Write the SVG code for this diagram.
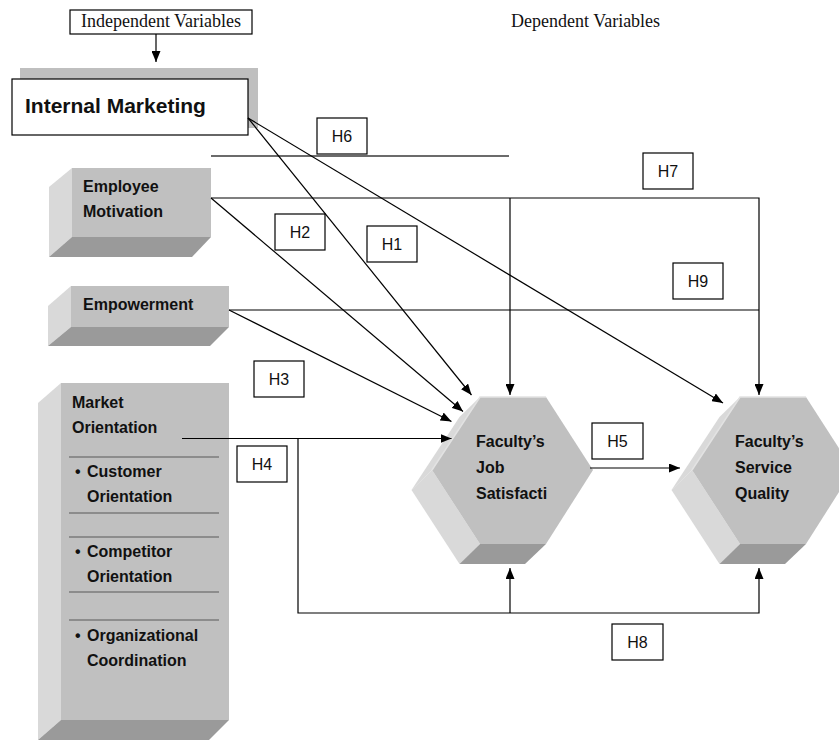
<svg xmlns="http://www.w3.org/2000/svg" width="839" height="740" viewBox="0 0 839 740">
<style>
.serif{font-family:"Liberation Serif","Times New Roman",serif;font-size:18px;fill:#111}
.lbl{font-family:"Liberation Sans",Arial,sans-serif;font-size:16px;font-weight:bold;fill:#111}
.h{font-family:"Liberation Sans",Arial,sans-serif;font-size:16px;fill:#111;text-anchor:middle}
.hb{fill:#fff;stroke:#000;stroke-width:1.2}
.front{fill:#c0c0c0}
.side{fill:#d9d9d9}
.bot{fill:#9a9a9a}
.div{stroke:#595959;stroke-width:1.2;fill:none}
.ln{stroke:#000;stroke-width:1.2;fill:none}
.ar{marker-end:url(#ah)}
</style>
<defs>
<marker id="ah" markerUnits="userSpaceOnUse" markerWidth="11" markerHeight="9" refX="11" refY="4.5" orient="auto">
<path d="M0,0 L11,4.5 L0,9 z" fill="#000"/>
</marker>
</defs>
<rect width="839" height="740" fill="#fff"/>

<g id="independent-variables">
<rect x="70" y="10" width="182" height="24" class="hb"/>
<text x="161" y="27" class="serif" text-anchor="middle">Independent Variables</text>
</g>
<g id="dependent-variables">
<text x="511" y="27" class="serif">Dependent Variables</text>
</g>

<g id="internal-marketing">
<rect x="20" y="68" width="238" height="60" fill="#bfbfbf"/>
<rect x="12" y="79" width="236" height="56" class="hb"/>
<text x="25" y="113" font-family="Liberation Sans, Arial, sans-serif" font-size="21" font-weight="bold" fill="#111">Internal Marketing</text>
</g>

<g id="employee-motivation">
<polygon class="side" points="49,187 72,168 72,237 49,257"/>
<polygon class="bot" points="72,237 211,237 192,257 49,257"/>
<rect class="front" x="72" y="168" width="139" height="69"/>
<text class="lbl" x="83" y="192">Employee</text>
<text class="lbl" x="83" y="217">Motivation</text>
</g>

<g id="empowerment">
<polygon class="side" points="48,306 71,286 71,327 48,346"/>
<polygon class="bot" points="71,327 229,327 210,346 48,346"/>
<rect class="front" x="71" y="286" width="158" height="41"/>
<text class="lbl" x="83" y="310">Empowerment</text>
</g>

<g id="market-orientation">
<polygon class="side" points="38,403 61,383 61,720 38,740"/>
<polygon class="bot" points="61,720 229,720 209,740 38,740"/>
<rect class="front" x="61" y="383" width="168" height="337"/>
<text class="lbl" x="72" y="408">Market</text>
<text class="lbl" x="72" y="433">Orientation</text>
<line class="div" x1="69" y1="457" x2="219" y2="457"/>
<text class="lbl" x="75" y="477">•</text>
<text class="lbl" x="87" y="477">Customer</text>
<text class="lbl" x="87" y="502">Orientation</text>
<line class="div" x1="69" y1="513" x2="219" y2="513"/>
<line class="div" x1="69" y1="537" x2="219" y2="537"/>
<text class="lbl" x="75" y="557">•</text>
<text class="lbl" x="87" y="557">Competitor</text>
<text class="lbl" x="87" y="582">Orientation</text>
<line class="div" x1="69" y1="592" x2="219" y2="592"/>
<line class="div" x1="69" y1="620" x2="219" y2="620"/>
<text class="lbl" x="75" y="641">•</text>
<text class="lbl" x="87" y="641">Organizational</text>
<text class="lbl" x="87" y="666">Coordination</text>
</g>

<g id="job-satisfaction">
<polygon class="side" points="480,397 432,470 411.5,490 459.5,417"/>
<polygon class="side" points="432,470 480,544 459.5,564 411.5,490"/>
<polygon class="bot" points="480,544 546,544 525,564 459.5,564"/>
<polygon class="front" points="480,397 546,397 593,470 546,544 480,544 432,470"/>
<polyline points="546,397 480,397 432,470" fill="none" stroke="#e2e2e2" stroke-width="1.5"/>
<text class="lbl" x="476" y="447">Faculty’s</text>
<text class="lbl" x="476" y="473">Job</text>
<text class="lbl" x="476" y="499">Satisfacti</text>
</g>

<g id="service-quality">
<polygon class="side" points="740,397 692,470 671.5,490 719.5,417"/>
<polygon class="side" points="692,470 740,544 719.5,564 671.5,490"/>
<polygon class="bot" points="740,544 806,544 785,564 719.5,564"/>
<polygon class="front" points="740,397 806,397 853,470 806,544 740,544 692,470"/>
<polyline points="806,397 740,397 692,470" fill="none" stroke="#e2e2e2" stroke-width="1.5"/>
<text class="lbl" x="735" y="447">Faculty’s</text>
<text class="lbl" x="735" y="473">Service</text>
<text class="lbl" x="735" y="499">Quality</text>
</g>

<g id="connectors">
<line class="ln ar" x1="156" y1="34" x2="156" y2="62"/>
<line x1="211" y1="156" x2="509" y2="156" stroke="#3a3a3a" stroke-width="1.4"/>
<line class="ln ar" x1="248" y1="118" x2="471.5" y2="395"/>
<line class="ln ar" x1="248" y1="118" x2="723" y2="403"/>
<line class="ln ar" x1="211" y1="198" x2="463" y2="411.5"/>
<polyline class="ln ar" points="211,198 759,198 759,395"/>
<line class="ln ar" x1="510" y1="198" x2="510" y2="395"/>
<line class="ln ar" x1="229" y1="310" x2="451.5" y2="421.5"/>
<line class="ln" x1="229" y1="310" x2="759" y2="310"/>
<line class="ln ar" x1="182" y1="438.5" x2="451.5" y2="438.5"/>
<polyline class="ln ar" points="298,438.5 298,613 759,613 759,568"/>
<line class="ln ar" x1="510" y1="613" x2="510" y2="568"/>
<line class="ln ar" x1="590" y1="468" x2="680" y2="468"/>
</g>

<g id="h-labels">
<g id="h6"><rect class="hb" x="317" y="118" width="50" height="36"/><text class="h" x="342" y="142">H6</text></g>
<g id="h7"><rect class="hb" x="643" y="153" width="50" height="36"/><text class="h" x="668" y="177">H7</text></g>
<g id="h2"><rect class="hb" x="275" y="214" width="50" height="36"/><text class="h" x="300" y="238">H2</text></g>
<g id="h1"><rect class="hb" x="367" y="226" width="50" height="36"/><text class="h" x="392" y="250">H1</text></g>
<g id="h9"><rect class="hb" x="673" y="263" width="50" height="36"/><text class="h" x="698" y="287">H9</text></g>
<g id="h3"><rect class="hb" x="254" y="361" width="50" height="36"/><text class="h" x="279" y="385">H3</text></g>
<g id="h4"><rect class="hb" x="237" y="446" width="50" height="36"/><text class="h" x="262" y="470">H4</text></g>
<g id="h5"><rect class="hb" x="592" y="423" width="51" height="36"/><text class="h" x="617.5" y="447">H5</text></g>
<g id="h8"><rect class="hb" x="612" y="624" width="51" height="36"/><text class="h" x="637.5" y="648">H8</text></g>
</g>
</svg>
